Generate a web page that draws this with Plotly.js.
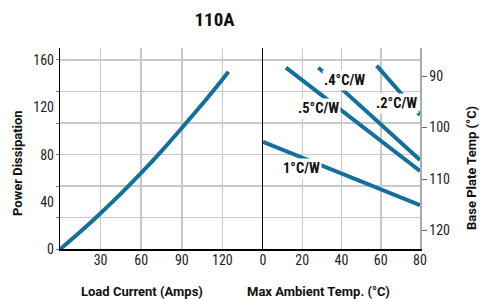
<!DOCTYPE html>
<html>
<head>
<meta charset="utf-8">
<script src="https://cdn.plot.ly/plotly-3.0.1.min.js"></script>
<style>html,body{margin:0;padding:0;background:#fff;}#chart{width:480px;height:299px;}</style>
</head>
<body>
<div id="chart"></div>
<script>
// Left panel: power dissipation vs load current
const loadCurrent = [0, 15, 30, 45, 60, 75, 90, 105, 120, 124.5];
const powerDiss   = [0, 14.8, 30.5, 47, 64.5, 83, 102.5, 122.5, 143.5, 150];

// Right panel: thermal resistance lines (ambient temp vs power)
const r1Temp  = [0, 80];      const r1Power  = [90.9, 37.4];
const r05Temp = [11.7, 80];   const r05Power = [153.5, 66.2];
const r04Temp = [28.2, 80];   const r04Power = [153.5, 75.5];
const r02Temp = [57.9, 80];   const r02Power = [155.2, 113.5];

const lineLabels = ['1°C/W', '.5°C/W', '.4°C/W', '.2°C/W'];
const labelTemp  = [19.7, 28.2, 41.4, 67.8];
const labelPower = [68.5, 119.3, 142.4, 123.4];

const currentTicks = [30, 60, 90, 120];
const ambientTicks = [0, 20, 40, 60, 80];
const powerTicks = [0, 40, 80, 120, 160];
const powerGrid = [0, 26.667, 53.333, 80, 106.667, 133.333, 160];
const baseTicks = [90, 100, 110, 120];

const W = 480, H = 299;
const px = v => v / W;
const py = v => 1 - v / H;

const COND = '"Roboto Condensed", "DejaVu Sans Condensed", sans-serif';
const SANS = 'Roboto, "Liberation Sans", sans-serif';
const BLUE = '#13709c';
const GRID = '#c9c9c9';

const lineStyle = {color: BLUE, width: 4};
const hidden = {mode: 'lines', line: {width: 0}, opacity: 0, hoverinfo: 'skip'};
const traces = [
  {x: loadCurrent, y: powerDiss, xaxis: 'x', yaxis: 'y', mode: 'lines', line: {color: BLUE, width: 4, shape: 'spline'}, hoverinfo: 'none'},
  {x: r1Temp, y: r1Power, xaxis: 'x2', yaxis: 'y', mode: 'lines', line: lineStyle, hoverinfo: 'none'},
  {x: r05Temp, y: r05Power, xaxis: 'x2', yaxis: 'y', mode: 'lines', line: lineStyle, hoverinfo: 'none'},
  {x: r04Temp, y: r04Power, xaxis: 'x2', yaxis: 'y', mode: 'lines', line: lineStyle, hoverinfo: 'none'},
  {x: r02Temp, y: r02Power, xaxis: 'x2', yaxis: 'y', mode: 'lines', line: lineStyle, hoverinfo: 'none'},
  // invisible carriers so the overlay axes (tick labels, separator, right axis) are drawn
  Object.assign({x: loadCurrent, y: powerDiss, xaxis: 'x', yaxis: 'y3'}, hidden),
  Object.assign({x: r1Temp, y: r1Power, xaxis: 'x2', yaxis: 'y4'}, hidden),
  Object.assign({x: r1Temp, y: r1Power, xaxis: 'x2', yaxis: 'y2'}, hidden)
];

const yDomain = [py(249.3), py(48)];
const pRange = [0, 170.1];
const tickFont = {family: COND, size: 14, color: '#222'};
const titleFont = {family: SANS, size: 13, color: '#111', weight: 'bold'};

const annotations = lineLabels.map((t, i) => ({
  text: '<b>' + t + '</b>', x: labelTemp[i], y: labelPower[i], xref: 'x2', yref: 'y',
  showarrow: false, bgcolor: '#fff', borderpad: 1,
  font: {family: COND, size: 14.5, color: '#111'}
}));
annotations.push(
  {text: '<b>Load Current (Amps)</b>', x: px(142), y: py(291), xref: 'paper', yref: 'paper', showarrow: false, font: titleFont, xanchor: 'center', yanchor: 'middle'},
  {text: '<b>Max Ambient Temp. (°C)</b>', x: px(318.5), y: py(291.5), xref: 'paper', yref: 'paper', showarrow: false, font: titleFont, xanchor: 'center', yanchor: 'middle'},
  {text: '<b>Power Dissipation</b>', x: px(17), y: py(163), xref: 'paper', yref: 'paper', showarrow: false, font: titleFont, textangle: -90, xanchor: 'center', yanchor: 'middle'},
  {text: '<b>Base Plate Temp (°C)</b>', x: px(471), y: py(168), xref: 'paper', yref: 'paper', showarrow: false, font: titleFont, textangle: -90, xanchor: 'center', yanchor: 'middle'}
);

const layout = {
  width: W, height: H,
  margin: {l: 0, r: 0, t: 0, b: 0},
  paper_bgcolor: '#fff', plot_bgcolor: '#fff',
  showlegend: false,
  title: {text: '<b>110A</b>', x: px(214.5), y: py(19.7), xanchor: 'center', yanchor: 'middle', xref: 'paper', yref: 'paper',
          font: {family: COND, size: 19, color: '#111'}},
  xaxis: {domain: [px(60), px(263)], range: [0, 150], anchor: 'y', tickvals: currentTicks,
          showgrid: true, gridcolor: GRID, gridwidth: 1.5, showline: true, linecolor: '#000', linewidth: 1.5,
          zeroline: false, ticks: '', ticklabelstandoff: -3, tickfont: tickFont, fixedrange: true},
  xaxis2: {domain: [px(263), px(420)], range: [0, 80], anchor: 'y', tickvals: ambientTicks,
          showgrid: true, gridcolor: GRID, gridwidth: 1.5, showline: true, linecolor: '#000', linewidth: 1.5,
          zeroline: false, ticks: '', ticklabelstandoff: -3, tickfont: tickFont, fixedrange: true},
  yaxis: {domain: yDomain, range: pRange, anchor: 'x', tickvals: powerGrid, showticklabels: false,
          showgrid: true, gridcolor: GRID, gridwidth: 1.5, showline: true, linecolor: '#000', linewidth: 1.5,
          zeroline: false, ticks: 'outside', ticklen: 3, tickcolor: '#777', fixedrange: true},
  yaxis3: {overlaying: 'y', anchor: 'x', side: 'left', range: pRange, tickvals: powerTicks,
          showgrid: false, showline: false, zeroline: false, ticks: '', ticklabelstandoff: 5,
          tickfont: tickFont, fixedrange: true},
  yaxis2: {overlaying: 'y', anchor: 'x2', side: 'right', range: [123.65, 84.56], tickvals: baseTicks,
          showgrid: false, showline: true, linecolor: '#aaa', linewidth: 1.5, zeroline: false,
          ticks: 'outside', ticklen: 5, tickcolor: '#666', tickfont: tickFont, fixedrange: true},
  yaxis4: {overlaying: 'y', anchor: 'x2', side: 'left', range: pRange, showticklabels: false,
          showgrid: false, showline: true, linecolor: '#000', linewidth: 1.5, zeroline: false, ticks: '', fixedrange: true},
  annotations: annotations
};

Plotly.newPlot('chart', traces, layout, {staticPlot: true, displayModeBar: false});
</script>
</body>
</html>
